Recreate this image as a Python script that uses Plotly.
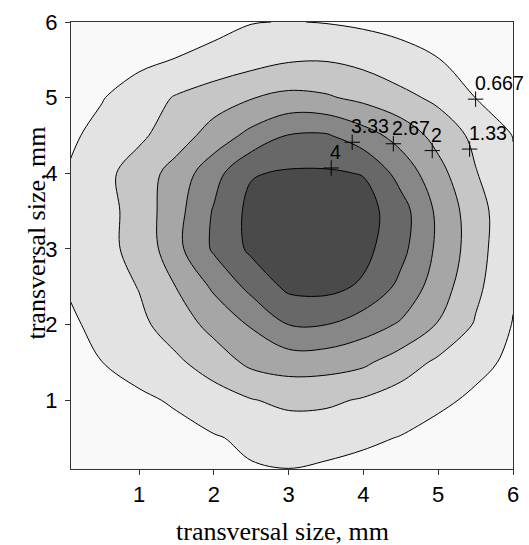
import plotly.graph_objects as go

# grid coordinates (mm)
x_vals = [0.0, 0.5, 1.0, 1.5, 2.0, 2.5, 3.0, 3.5, 4.0, 4.5, 5.0, 5.5, 6.0]
y_vals = [0.0, 0.5, 1.0, 1.5, 2.0, 2.5, 3.0, 3.5, 4.0, 4.5, 5.0, 5.5, 6.0]

# intensity values, one row per y value (bottom to top)
z_rows = [
    [0.10, 0.12, 0.20, 0.30, 0.42, 0.59, 0.60, 0.50, 0.42, 0.33, 0.24, 0.16, 0.10],
    [0.10, 0.13, 0.27, 0.45, 0.62, 0.78, 0.94, 0.92, 0.78, 0.64, 0.47, 0.29, 0.13],
    [0.20, 0.37, 0.545, 0.75, 1.03, 1.30, 1.48, 1.45, 1.27, 1.02, 0.775, 0.57, 0.39],
    [0.49, 0.66, 0.94, 1.22, 1.65, 2.15, 2.31, 2.28, 2.12, 1.67, 1.21, 0.815, 0.56],
    [0.52, 0.84, 1.18, 1.66, 2.21, 2.73, 3.34, 3.34, 2.98, 2.59, 1.96, 1.27, 0.64],
    [0.67, 0.985, 1.36, 2.015, 2.775, 3.525, 4.15, 4.20, 3.90, 3.165, 2.34, 1.49, 0.74],
    [0.75, 1.19, 1.48, 2.48, 3.43, 4.13, 4.40, 4.45, 4.20, 3.53, 2.53, 1.65, 0.715],
    [0.725, 1.09, 1.59, 2.44, 3.39, 4.19, 4.41, 4.46, 4.28, 3.62, 2.52, 1.62, 0.82],
    [0.65, 1.13, 1.64, 2.27, 3.09, 3.95, 4.08, 4.08, 3.97, 3.08, 2.23, 1.37, 0.75],
    [0.52, 0.85, 1.21, 1.68, 2.28, 2.86, 3.36, 3.40, 2.95, 2.41, 1.77, 1.17, 0.65],
    [0.46, 0.63, 1.00, 1.39, 1.68, 1.97, 2.17, 2.08, 1.83, 1.53, 1.18, 0.66, 0.49],
    [0.17, 0.34, 0.51, 0.69, 0.88, 1.08, 1.27, 1.30, 1.15, 0.86, 0.68, 0.50, 0.33],
    [0.12, 0.20, 0.27, 0.35, 0.45, 0.64, 0.69, 0.64, 0.55, 0.50, 0.40, 0.30, 0.20],
]

# contour levels and band colours (lowest band first)
level_start = 2.0 / 3.0
level_end = 4.0
level_step = 2.0 / 3.0
band_colors = ["#f9f9f9", "#e3e3e3", "#c6c6c6", "#a6a6a6", "#878787", "#686868", "#4a4a4a"]

# contour label positions and texts
label_x = [5.50, 5.42, 4.92, 4.40, 3.85, 3.57]
label_y = [4.98, 4.32, 4.30, 4.39, 4.41, 4.07]
label_text = ["0.667", "1.33", "2", "2.67", "3.33", "4"]

tick_vals = [1, 2, 3, 4, 5, 6]
x_title = "transversal size, mm"
y_title = "transversal size, mm"

n = len(band_colors)
colorscale = [[i / (n - 1), c] for i, c in enumerate(band_colors)]

fig = go.Figure()
fig.add_trace(go.Contour(
    x=x_vals, y=y_vals, z=z_rows,
    contours=dict(start=level_start, end=level_end, size=level_step, coloring="fill"),
    colorscale=colorscale,
    showscale=False,
    line=dict(color="black", width=1, smoothing=1),
    hoverinfo="skip",
))
fig.add_trace(go.Scatter(
    x=label_x, y=label_y,
    mode="markers",
    marker=dict(symbol="cross-thin", size=11, line=dict(width=1, color="black"), color="black"),
    cliponaxis=False,
    showlegend=False,
    hoverinfo="skip",
))

label_font = dict(family="Liberation Sans, Arial", size=19.5, color="black")
annotations = [
    dict(text=t, x=lx, y=ly, xref="x", yref="y", xanchor="left", yanchor="bottom",
         xshift=-3, yshift=3, showarrow=False, font=label_font)
    for lx, ly, t in zip(label_x, label_y, label_text)
]
annotations += [
    dict(text=x_title, xref="paper", yref="paper", x=0.478, y=-0.139,
         xanchor="center", yanchor="middle", showarrow=False,
         font=dict(family="Liberation Serif, Times New Roman", size=26, color="black")),
    dict(text=y_title, xref="paper", yref="paper", x=-0.078, y=0.528,
         xanchor="center", yanchor="middle", showarrow=False, textangle=-90,
         font=dict(family="Liberation Serif, Times New Roman", size=26, color="black")),
]

axis_common = dict(
    range=[0.09, 6.0],
    tickvals=tick_vals,
    ticks="outside",
    ticklen=5,
    tickcolor="#333",
    showline=True,
    linecolor="#333",
    linewidth=1,
    mirror=True,
    showgrid=False,
    zeroline=False,
    tickfont=dict(family="Liberation Sans, Arial", size=22, color="black"),
)

fig.update_layout(
    width=529, height=545,
    margin=dict(l=71, r=10, t=20, b=76),
    paper_bgcolor="white",
    plot_bgcolor="#f9f9f9",
    xaxis=dict(axis_common, ticklabelstandoff=1),
    yaxis=dict(axis_common, ticklabelstandoff=3),
    showlegend=False,
    annotations=annotations,
)

# remove the browser's default page margin so the figure fills the window
fig.write_html(
    "out.html",
    config={"displayModeBar": False},
    post_script="document.body.style.margin='0';document.body.style.overflow='hidden';",
)
